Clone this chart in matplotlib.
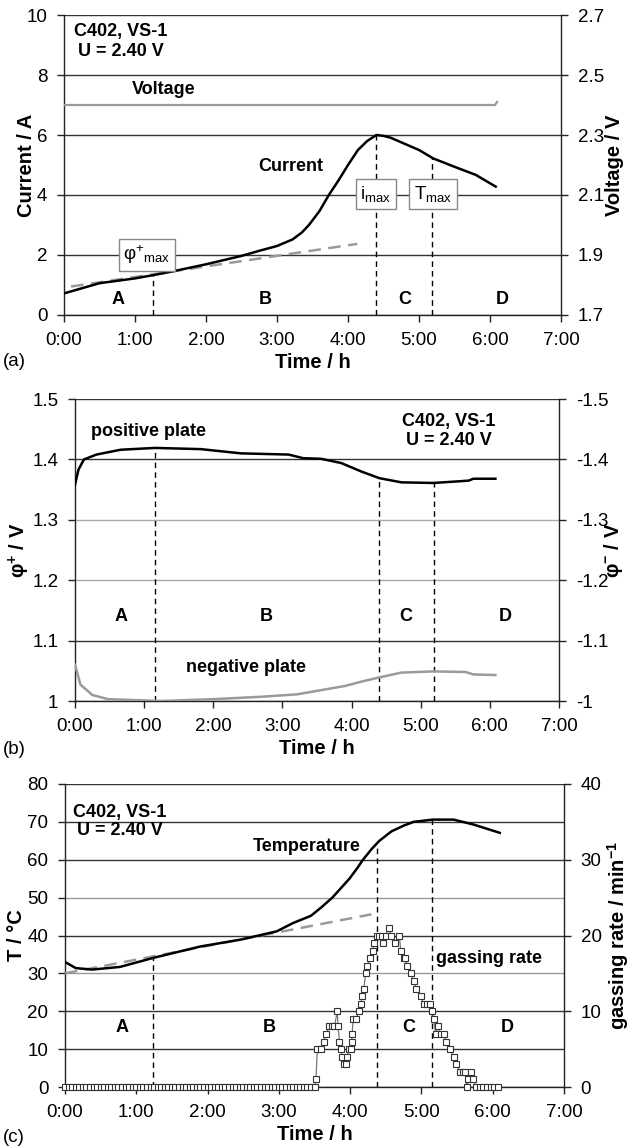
import matplotlib
matplotlib.use('Agg')
import matplotlib.pyplot as plt

plt.rcParams['font.family'] = ['Liberation Sans', 'DejaVu Sans']
plt.rcParams['mathtext.fontset'] = 'custom'
plt.rcParams['mathtext.rm'] = 'Liberation Sans'
plt.rcParams['mathtext.it'] = 'Liberation Sans:italic'
plt.rcParams['mathtext.bf'] = 'Liberation Sans:bold'
plt.rcParams['axes.unicode_minus'] = False

'---------------- data ----------------'
hour_ticks = [0, 1, 2, 3, 4, 5, 6, 7]
hour_labels = ['0:00', '1:00', '2:00', '3:00', '4:00', '5:00', '6:00', '7:00']
region_names = ['A', 'B', 'C', 'D']

# (a) current / voltage
cur_t = [0.0, 0.25, 0.5, 1.0, 1.26, 1.5, 2.0, 2.5, 2.75, 3.0, 3.1, 3.22, 3.35, 3.45,
         3.6, 3.73, 3.87, 4.0, 4.14, 4.27, 4.4, 4.5, 4.6, 5.0, 5.2, 5.5, 5.8, 6.08]
cur_i = [0.72, 0.89, 1.06, 1.22, 1.33, 1.44, 1.69, 1.97, 2.14, 2.30, 2.40, 2.52,
         2.75, 3.0, 3.47, 4.0, 4.5, 5.0, 5.5, 5.8, 6.0, 5.97, 5.91, 5.5, 5.22,
         4.94, 4.67, 4.28]
volt_t = [0.0, 6.07, 6.1]
volt_u = [2.40, 2.40, 2.41]
cur_fit_t = [0.1, 4.13]
cur_fit_i = [0.95, 2.37]
a_marks_t = [1.26, 4.40, 5.18]
a_marks_top = [1.33, 6.0, 5.22]
a_region_t = [0.76, 2.83, 4.8, 6.17]
a_ticks = [0, 2, 4, 6, 8, 10]
a_ticks2 = [1.7, 1.9, 2.1, 2.3, 2.5, 2.7]
a_labels2 = ['1.7', '1.9', '2.1', '2.3', '2.5', '2.7']

# (b) electrode potentials
pos_t = [0.0, 0.05, 0.13, 0.31, 0.66, 1.16, 1.82, 2.4, 3.09, 3.3, 3.56, 3.85, 4.14,
         4.4, 4.72, 5.18, 5.59, 5.7, 5.76, 6.08]
pos_v = [1.358, 1.383, 1.400, 1.408, 1.416, 1.419, 1.417, 1.410, 1.408, 1.402, 1.401,
         1.394, 1.380, 1.369, 1.362, 1.361, 1.364, 1.365, 1.368, 1.368]
neg_t = [0.0, 0.08, 0.25, 0.48, 1.24, 1.99, 2.69, 3.21, 3.56, 3.91, 4.14, 4.4,
         4.72, 5.18, 5.65, 5.76, 6.08]
neg_v = [-1.060, -1.027, -1.010, -1.003, -1.000, -1.003, -1.007, -1.011, -1.018,
         -1.025, -1.032, -1.039, -1.047, -1.049, -1.048, -1.044, -1.043]
b_marks_t = [1.16, 4.40, 5.19]
b_marks_top = [1.419, 1.369, 1.361]
b_region_t = [0.66, 2.77, 4.79, 6.22]
b_ticks = [1.0, 1.1, 1.2, 1.3, 1.4, 1.5]
b_labels = ['1', '1.1', '1.2', '1.3', '1.4', '1.5']
b_ticks2 = [-1.0, -1.1, -1.2, -1.3, -1.4, -1.5]
b_labels2 = ['-1', '-1.1', '-1.2', '-1.3', '-1.4', '-1.5']

# (c) temperature / gassing rate
temp_t = [0.0, 0.15, 0.38, 0.77, 1.24, 1.9, 2.46, 2.97, 3.2, 3.45, 3.6, 3.75, 3.99,
          4.1, 4.18, 4.3, 4.41, 4.58, 4.75, 4.89, 5.16, 5.45, 5.73, 6.1]
temp_c = [33.0, 31.4, 31.0, 31.7, 34.1, 37.1, 38.9, 41.1, 43.3, 45.2, 47.5, 50.0,
          55.0, 57.8, 60.0, 62.8, 65.0, 67.5, 69.0, 70.0, 70.6, 70.6, 69.3, 67.1]
temp_fit_t = [0.0, 4.30]
temp_fit_c = [30.0, 45.6]
gas_t = [0.00, 0.05, 0.10, 0.15, 0.20, 0.25, 0.30, 0.35, 0.40, 0.45, 0.50, 0.55,
         0.60, 0.65, 0.70, 0.75, 0.80, 0.85, 0.90, 0.95, 1.00, 1.05, 1.10, 1.15,
         1.20, 1.25, 1.30, 1.35, 1.40, 1.45, 1.50, 1.55, 1.60, 1.65, 1.70, 1.75,
         1.80, 1.85, 1.90, 1.95, 2.00, 2.05, 2.10, 2.15, 2.20, 2.25, 2.30, 2.35,
         2.40, 2.45, 2.50, 2.55, 2.60, 2.65, 2.70, 2.75, 2.80, 2.85, 2.90, 2.95,
         3.00, 3.05, 3.10, 3.15, 3.20, 3.25, 3.30, 3.35, 3.40, 3.45, 3.50,
         3.52, 3.54, 3.59, 3.63, 3.66, 3.71, 3.74, 3.78, 3.82, 3.83, 3.85, 3.87,
         3.89, 3.91, 3.94, 3.96, 3.98, 4.01, 4.02, 4.03, 4.04, 4.08, 4.13, 4.15,
         4.17, 4.19, 4.22, 4.24, 4.28, 4.32, 4.33, 4.37, 4.41, 4.44, 4.46, 4.50,
         4.54, 4.58, 4.63, 4.69, 4.71, 4.75, 4.77, 4.80, 4.85, 4.89, 4.93, 4.99,
         5.03, 5.08, 5.12, 5.15, 5.17, 5.20, 5.23, 5.27, 5.31, 5.35, 5.40, 5.45,
         5.49, 5.54, 5.58, 5.61, 5.64, 5.66, 5.70, 5.72, 5.77, 5.82, 5.87, 5.92,
         5.97, 6.02, 6.08]
gas_r = [0] * 71 + [
         1, 5, 5, 6, 7, 8, 8, 8, 10, 8, 6, 5,
         4, 3, 3, 4, 5, 5, 6, 7, 9, 9, 10, 11,
         12, 13, 15, 16, 17, 18, 19, 20, 20, 20, 19, 20,
         21, 20, 19, 20, 18, 17, 17, 16, 15, 14, 13, 12,
         11, 11, 11, 10, 9, 7, 8, 7, 7, 6, 5, 4,
         3, 2, 2, 2, 0, 1, 2, 1, 0, 0, 0, 0,
         0, 0, 0]
c_marks_t = [1.24, 4.37, 5.15]
c_marks_top = [34.3, 64.0, 70.6]
c_region_t = [0.8, 2.87, 4.82, 6.2]
c_ticks = [0, 10, 20, 30, 40, 50, 60, 70, 80]
c_ticks2 = [0, 10, 20, 30, 40]

'---------------- style ----------------'
W, H = 629, 1146
DARK = '#222222'
GRAY = '#9a9a9a'
DASH = (0, (4, 3))
TICK_FS = 13.5
LABEL_FS = 14.5


def frame(left, top, right, bottom):
    return [left / W, 1 - bottom / H, (right - left) / W, (bottom - top) / H]


def style_pair(ax, ax2, grid_cols):
    ax.set_xlim(0, 7)
    ax.set_xticks(hour_ticks, hour_labels)
    for a in (ax, ax2):
        a.tick_params(direction='out', length=5, width=1, labelsize=TICK_FS, pad=7,
                      color=DARK)
        for s in a.spines.values():
            s.set_color(DARK)
            s.set_linewidth(1)
    ax.spines['top'].set_visible(False)
    ax.spines['right'].set_visible(False)
    for s in ['top', 'left', 'bottom']:
        ax2.spines[s].set_visible(False)
    ax.grid(axis='y', lw=1.0)
    for gl, c in zip(ax.yaxis.get_gridlines(), grid_cols):
        gl.set_color(c)
    ax.set_axisbelow(True)
    ax.set_xlabel('Time / h', fontsize=LABEL_FS, fontweight='bold', va='center')


bold = dict(fontsize=13, fontweight='bold', ha='center', va='center')
box = dict(boxstyle='square,pad=0.25', fc='white', ec='#888888', lw=1)

fig = plt.figure(figsize=(6.29, 11.46), dpi=100)

'---------------- (a) ----------------'
ax = fig.add_axes(frame(64, 15, 561, 315))
ax2 = ax.twinx()
ax.set_ylim(0, 10)
ax.set_yticks(a_ticks)
ax2.set_ylim(1.7, 2.7)
ax2.set_yticks(a_ticks2, a_labels2)
style_pair(ax, ax2, ['#444'] + ['#333'] * 5)
ax.xaxis.set_label_coords(0.5, -0.157)
ax.plot(cur_fit_t, cur_fit_i, color=GRAY, lw=1.8, ls=(0, (5, 3)), zorder=3)
ax.plot(cur_t, cur_i, color='k', lw=1.8, zorder=4)
ax2.plot(volt_t, volt_u, color=GRAY, lw=1.6)
ax.vlines(a_marks_t, 0, a_marks_top, colors='k', lw=1, linestyles=DASH, zorder=3)
ax.text(0.8, 9.44, 'C402, VS-1', **bold)
ax.text(0.8, 8.78, 'U = 2.40 V', **bold)
ax.text(1.41, 7.5, 'Voltage', **bold)
ax.text(3.19, 4.94, 'Current', **bold)
ax.text(1.17, 2.0, r'φ$^{+}{}_{\mathrm{max}}$', fontsize=13.5, ha='center',
        va='center', bbox=box, zorder=6)
ax.text(4.39, 4.03, r'i$_{\mathrm{max}}$', fontsize=13.5, ha='center',
        va='center', bbox=box, zorder=6)
ax.text(5.2, 4.03, r'T$_{\mathrm{max}}$', fontsize=13.5, ha='center',
        va='center', bbox=box, zorder=6)
for t, name in zip(a_region_t, region_names):
    ax.text(t, 0.53, name, **bold)
ax.set_ylabel('Current / A', fontsize=LABEL_FS, fontweight='bold', va='center')
ax.yaxis.set_label_coords(-0.076, 0.5)
ax2.set_ylabel('Voltage / V', fontsize=LABEL_FS, fontweight='bold', va='center')
ax2.yaxis.set_label_coords(1.107, 0.5)
fig.text(0.004, 1 - 362 / H, '(a)', fontsize=13.5, va='center')

'---------------- (b) ----------------'
bx = fig.add_axes(frame(75, 399, 559, 701))
bx2 = bx.twinx()
bx.set_ylim(1.0, 1.5)
bx.set_yticks(b_ticks, b_labels)
bx2.set_ylim(-1.0, -1.5)
bx2.set_yticks(b_ticks2, b_labels2)
style_pair(bx, bx2, ['#444', '#333', '#aaa', '#aaa', '#333', '#333'])
bx.xaxis.set_label_coords(0.5, -0.156)
bx.plot(pos_t, pos_v, color='k', lw=1.8, zorder=4)
bx2.plot(neg_t, neg_v, color=GRAY, lw=1.8)
bx.vlines(b_marks_t, 1.0, b_marks_top, colors='k', lw=1, linestyles=DASH, zorder=3)
bx.text(1.07, 1.446, 'positive plate', **bold)
bx.text(5.41, 1.463, 'C402, VS-1', **bold)
bx.text(5.41, 1.431, 'U = 2.40 V', **bold)
bx.text(2.48, 1.056, 'negative plate', **bold)
for t, name in zip(b_region_t, region_names):
    bx.text(t, 1.14, name, **bold)
bx.set_ylabel(r'$\mathbf{φ^{+}}$ / V', fontsize=LABEL_FS, fontweight='bold',
              va='center')
bx.yaxis.set_label_coords(-0.114, 0.5)
bx2.set_ylabel(r'$\mathbf{φ^{-}}$ / V', fontsize=LABEL_FS, fontweight='bold',
               va='center')
bx2.yaxis.set_label_coords(1.112, 0.5)
fig.text(0.004, 1 - 750 / H, '(b)', fontsize=13.5, va='center')

'---------------- (c) ----------------'
cx = fig.add_axes(frame(65, 784, 564, 1087))
cx2 = cx.twinx()
cx.set_ylim(0, 80)
cx.set_yticks(c_ticks)
cx2.set_ylim(0, 40)
cx2.set_yticks(c_ticks2)
style_pair(cx, cx2, ['#444', '#333', '#333', '#999', '#333', '#999', '#333',
                     '#333', '#333'])
cx.xaxis.set_label_coords(0.5, -0.158)
cx.plot(temp_fit_t, temp_fit_c, color=GRAY, lw=1.8, ls=(0, (5, 3)), zorder=3)
cx.plot(temp_t, temp_c, color='k', lw=1.8, zorder=4)
cx2.plot(gas_t, gas_r, color='#777777', lw=0.9, marker='s', ms=5, mfc='white',
         mec='#333333', mew=0.8, clip_on=False)
cx.vlines(c_marks_t, 0, c_marks_top, colors='k', lw=1, linestyles=DASH, zorder=3)
cx.text(0.77, 72.6, 'C402, VS-1', **bold)
cx.text(0.77, 67.7, 'U = 2.40 V', **bold)
cx.text(3.39, 63.6, 'Temperature', **bold)
cx.text(5.2, 33.8, 'gassing rate', fontsize=13, fontweight='bold', ha='left',
        va='center')
for t, name in zip(c_region_t, region_names):
    cx.text(t, 15.6, name, **bold)
cx.set_ylabel('T / °C', fontsize=LABEL_FS, fontweight='bold', va='center')
cx.yaxis.set_label_coords(-0.098, 0.5)
cx2.set_ylabel(r'gassing rate / min$^{\mathbf{-1}}$', fontsize=LABEL_FS,
               fontweight='bold', va='center')
cx2.yaxis.set_label_coords(1.108, 0.5)
fig.text(0.004, 1 - 1137 / H, '(c)', fontsize=13.5, va='center')

fig.savefig('out.png', dpi=100)
